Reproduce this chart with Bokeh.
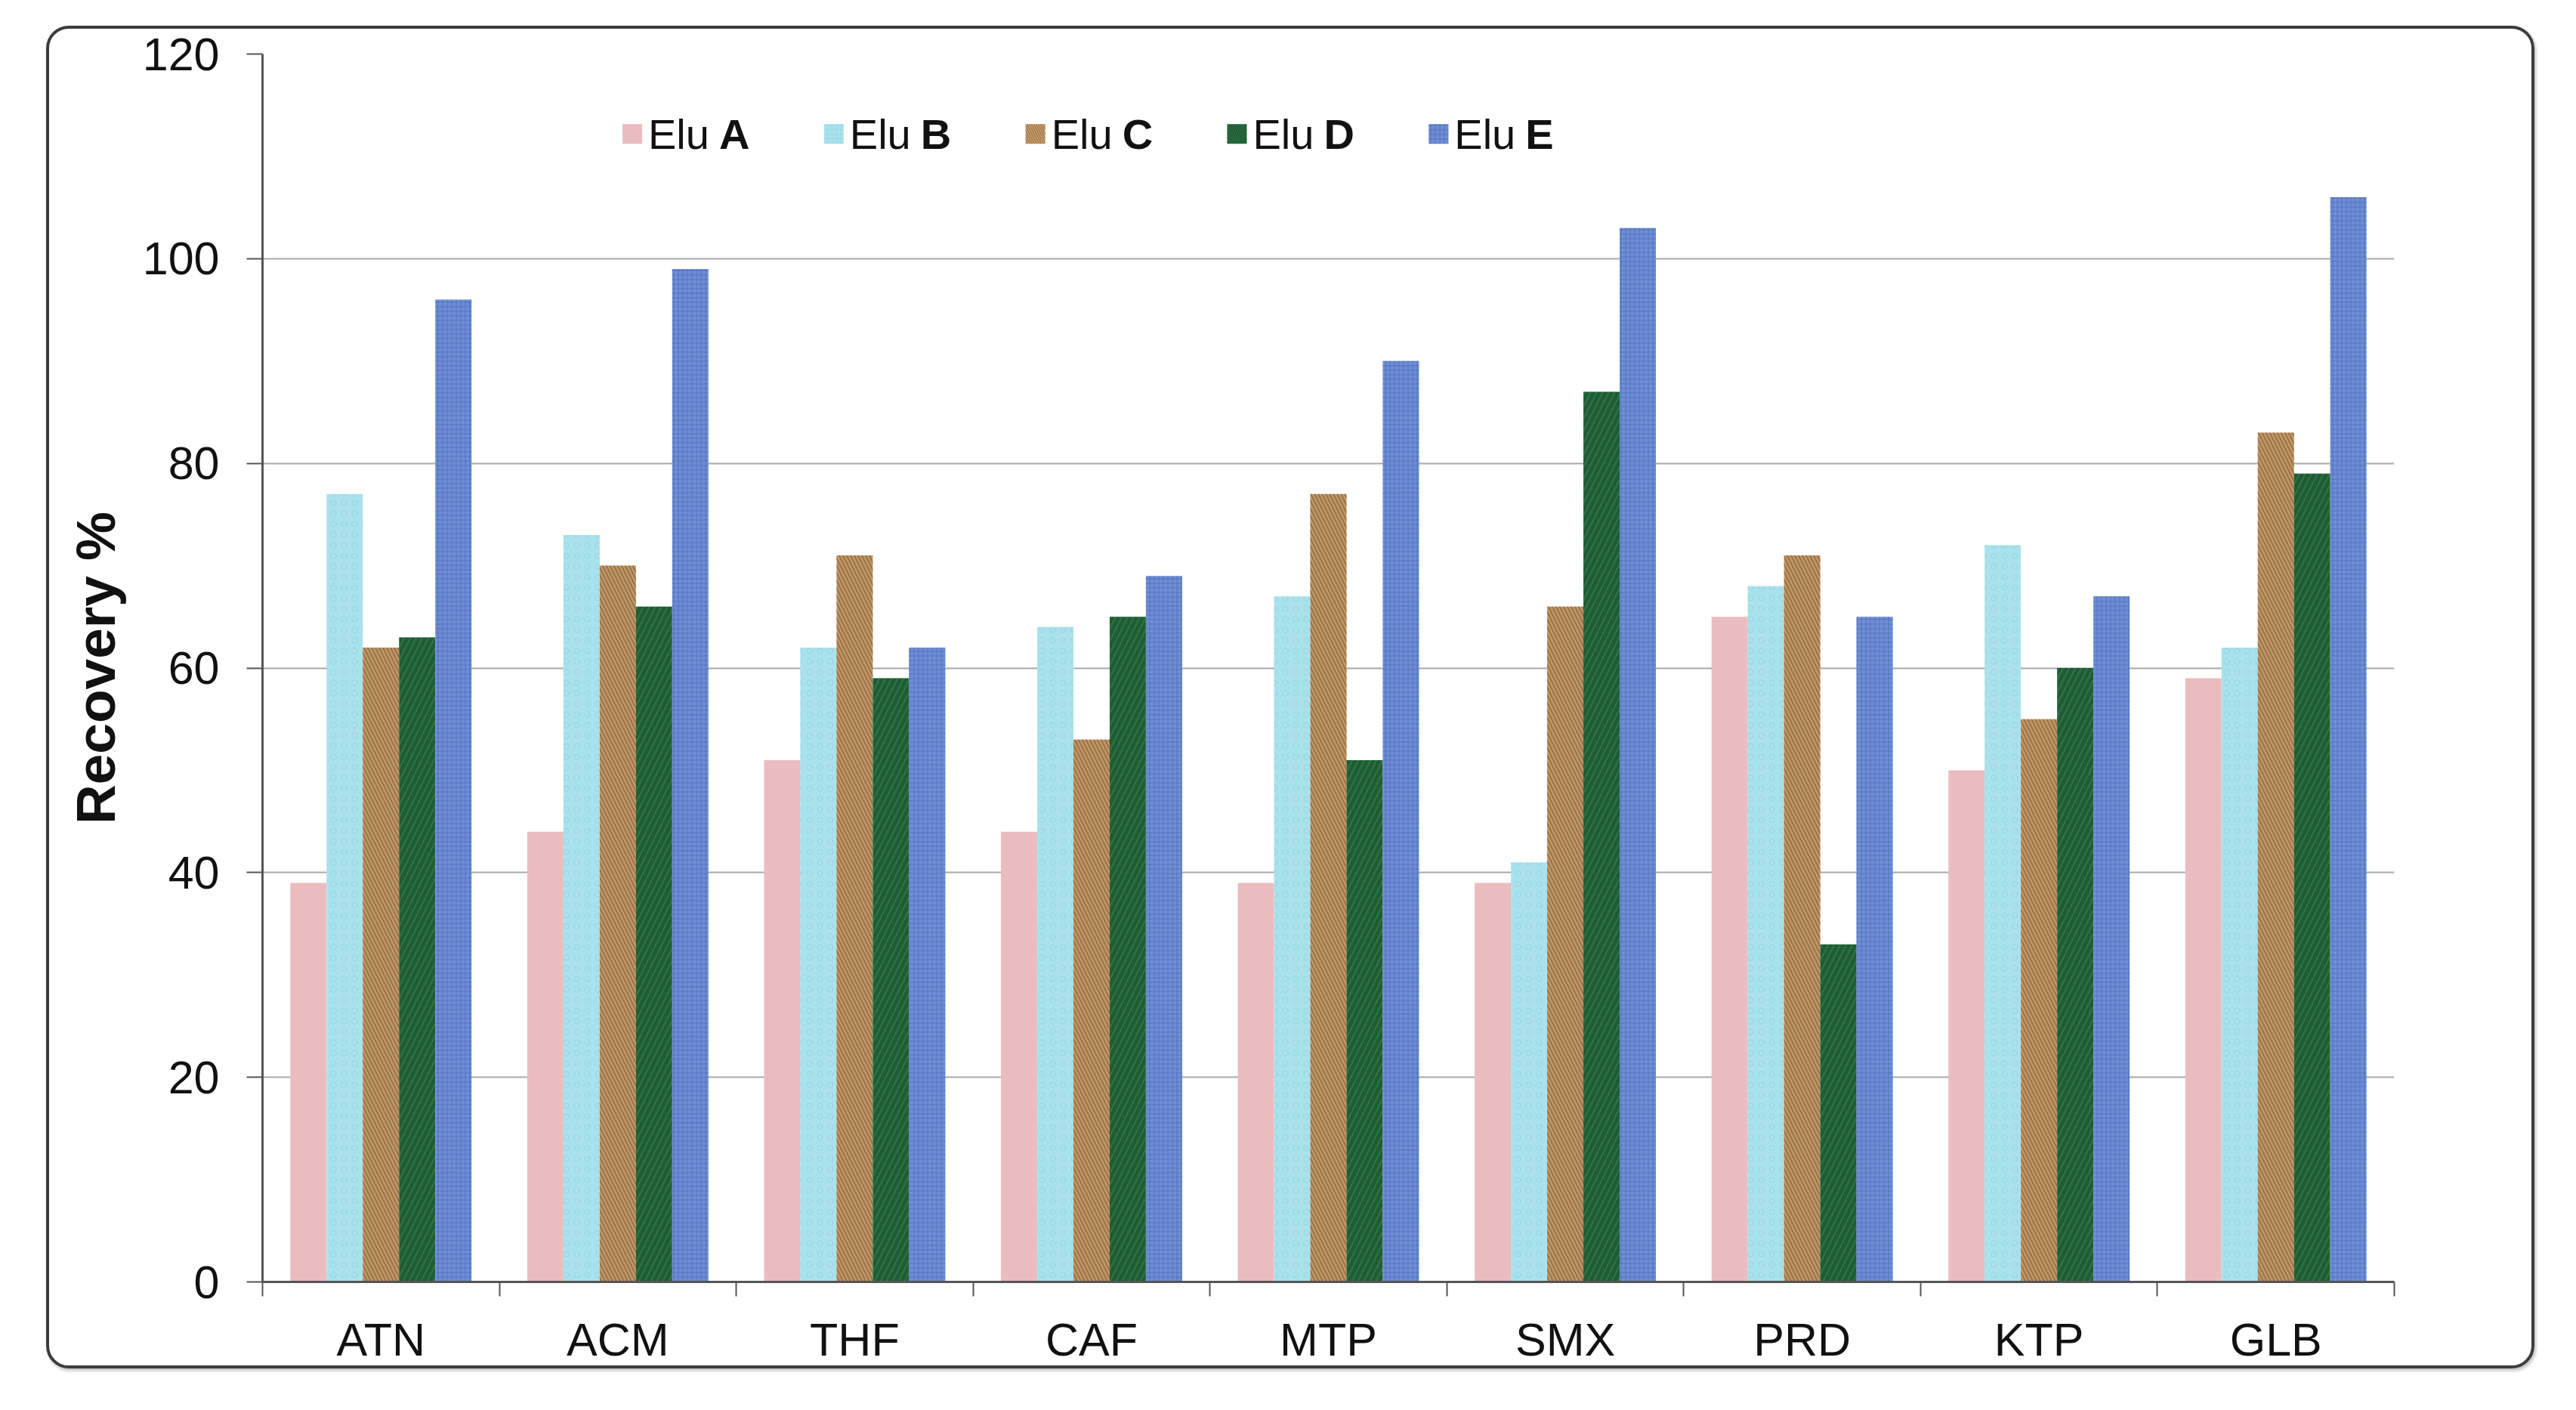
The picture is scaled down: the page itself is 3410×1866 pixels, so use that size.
from bokeh.plotting import figure
from bokeh.models import Range1d, FixedTicker, ColumnDataSource, InlineStyleSheet
from bokeh.core.properties import value
from bokeh.embed import file_html
from bokeh.resources import INLINE

# ---------------- data ----------------
categories = ["ATN", "ACM", "THF", "CAF", "MTP", "SMX", "PRD", "KTP", "GLB"]
series_names = ["Elu A", "Elu B", "Elu C", "Elu D", "Elu E"]
legend_prefix = "Elu"
legend_letters = ["A", "B", "C", "D", "E"]
elu_a = [39, 44, 51, 44, 39, 39, 65, 50, 59]
elu_b = [77, 73, 62, 64, 67, 41, 68, 72, 62]
elu_c = [62, 70, 71, 53, 77, 66, 71, 55, 83]
elu_d = [63, 66, 59, 65, 51, 87, 33, 60, 79]
elu_e = [96, 99, 62, 69, 90, 103, 65, 67, 106]
y_ticks = [0, 20, 40, 60, 80, 100, 120]
y_label = "Recovery %"

series = [elu_a, elu_b, elu_c, elu_d, elu_e]

# ---------------- styles ----------------
FONT = "Liberation Sans"
fills = ["#EBBCBF", "#A9E2EC", "#C49A68", "#1F5C34", "#6E8ED6"]
hatches = [" ", "o", "\\", "/", "+"]
hatch_colors = ["#F2CFD1", "#86C9D6", "#7A5430", "#3A8A55", "#4C6BB5"]
hatch_alphas = [0.0, 0.55, 0.6, 0.55, 0.75]
hatch_scales = [12, 14, 10, 16, 6]
hatch_weights = [1, 1, 2, 2, 1]
bar_w = 0.153

p = figure(width=3394, height=1850, output_backend="svg", toolbar_location=None,
           x_range=Range1d(-0.5, len(categories) - 0.5), y_range=Range1d(0, 120),
           min_border_left=347, min_border_right=225, min_border_top=71,
           min_border_bottom=154)
p.outline_line_color = None
p.background_fill_color = "white"
p.border_fill_color = "white"

# bars
for j, vals in enumerate(series):
    xs = [i + (j - 2) * bar_w for i in range(len(categories))]
    src = ColumnDataSource(dict(x=xs, top=vals))
    p.vbar(x="x", top="top", bottom=0, width=bar_w, source=src,
           fill_color=fills[j], line_color=None,
           hatch_pattern=hatches[j], hatch_color=hatch_colors[j],
           hatch_alpha=hatch_alphas[j], hatch_scale=hatch_scales[j],
           hatch_weight=hatch_weights[j])

# axes
xax = p.xaxis[0]
xax.ticker = FixedTicker(ticks=list(range(len(categories))),
                         minor_ticks=[i - 0.5 for i in range(len(categories) + 1)])
xax.major_label_overrides = {i: c for i, c in enumerate(categories)}
xax.major_tick_line_color = None
xax.major_tick_out = 19
xax.major_tick_in = 0
xax.minor_tick_out = 19
xax.minor_tick_in = 0
xax.minor_tick_line_color = "#555555"
xax.minor_tick_line_width = 2
xax.axis_line_color = "#555555"
xax.axis_line_width = 3
xax.major_label_standoff = 23
xax.major_label_text_font = FONT
xax.major_label_text_font_size = "61px"
xax.major_label_text_color = "#111111"

yax = p.yaxis[0]
yax.ticker = FixedTicker(ticks=y_ticks)
yax.minor_tick_line_color = None
yax.major_tick_out = 21
yax.major_tick_in = 0
yax.major_tick_line_color = "#555555"
yax.major_tick_line_width = 2
yax.axis_line_color = "#555555"
yax.axis_line_width = 3
yax.major_label_standoff = 36
yax.major_label_text_font = FONT
yax.major_label_text_font_size = "61px"
yax.major_label_text_color = "#111111"
yax.axis_label = y_label
yax.axis_label_text_font = FONT
yax.axis_label_text_font_size = "73px"
yax.axis_label_text_font_style = "bold"
yax.axis_label_text_color = "#111111"
yax.axis_label_standoff = 19

p.xgrid.grid_line_color = None
p.ygrid.grid_line_color = "#A8A8A8"
p.ygrid.grid_line_width = 2

# custom legend
leg_start = 1.061
leg_step = 0.851
leg_y = 112.2
leg_x = [leg_start + k * leg_step for k in range(len(series_names))]
for k in range(len(series_names)):
    p.scatter([leg_x[k]], [leg_y], marker="square", size=26,
              fill_color=fills[k], line_color=None,
              hatch_pattern=hatches[k], hatch_color=hatch_colors[k],
              hatch_alpha=hatch_alphas[k], hatch_scale=6, hatch_weight=1)
p.text(x=leg_x, y=[leg_y] * len(leg_x), text=[legend_prefix] * len(leg_x),
       x_offset=21, text_baseline="middle", text_align="left",
       text_font=value(FONT), text_font_size="56px", text_color="#111111")
p.text(x=leg_x, y=[leg_y] * len(leg_x), text=legend_letters,
       x_offset=115, text_baseline="middle", text_align="left",
       text_font=value(FONT), text_font_size="56px", text_font_style="bold",
       text_color="#111111")

# rounded outer border drawn by the page's stylesheet around the chart area
border_css = """
:host { position: relative; }
:host::after {
  content: "";
  position: absolute;
  left: 61px; top: 34px;
  width: 3294px; height: 1777px;
  box-sizing: border-box;
  border: 4px solid #3C3C3C;
  border-radius: 30px;
  box-shadow: 2px 3px 4px rgba(0,0,0,0.25);
  pointer-events: none;
  z-index: 10;
}
"""
p.stylesheets = [InlineStyleSheet(css=border_css)]

open("out.html", "w").write(file_html(p, INLINE))
